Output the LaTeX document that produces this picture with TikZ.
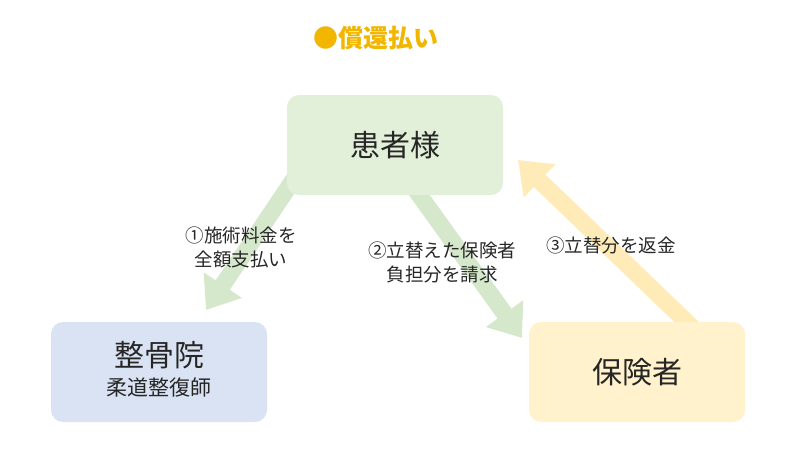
\documentclass[tikz,border=0pt]{standalone}
\usepackage{fontspec}
\setmainfont{Noto Sans CJK JP}
\usetikzlibrary{arrows.meta}
\definecolor{bgreen}{HTML}{E2EFD9}
\definecolor{agreen}{HTML}{D5E8CB}
\definecolor{bblue}{HTML}{DAE3F3}
\definecolor{byellow}{HTML}{FFF2CC}
\definecolor{ayellow}{HTML}{FFEBB8}
\definecolor{ttl}{HTML}{F2B600}
\definecolor{txt}{HTML}{262626}
\tikzset{box/.style={rounded corners=12pt,minimum width=216pt,minimum height=100pt,align=center,text=txt},
fat/.style={line width=17pt,-{Triangle[width=44pt,length=30pt]}},
lbl/.style={align=center,text=txt,font=\fontsize{18.5pt}{24pt}\selectfont}}
\begin{document}
\begin{tikzpicture}[x=1pt,y=-1pt]
\useasboundingbox (0,0) rectangle (800,450);
\coordinate (a1s) at (300,170);
\coordinate (a1e) at (206,310);
\coordinate (a2s) at (405,175);
\coordinate (a2e) at (522,338);
\coordinate (a3s) at (695,330);
\coordinate (a3e) at (518,160);
\draw[fat,draw=agreen,fill=agreen] (a1s) -- (a1e);
\draw[fat,draw=agreen,fill=agreen] (a2s) -- (a2e);
\draw[fat,draw=ayellow,fill=ayellow] (a3s) -- (a3e);
\node[box,fill=bgreen,font=\fontsize{30pt}{34pt}\selectfont] (p) at (395,145) {患者様};
\node[box,fill=bblue] (s) at (159,372) {};
\node[text=txt,font=\fontsize{30pt}{34pt}\selectfont] (s1) at (159,355) {整骨院};
\node[text=txt,font=\fontsize{21pt}{24pt}\selectfont] (s2) at (159,388) {柔道整復師};
\node[box,fill=byellow,font=\fontsize{30pt}{34pt}\selectfont] (h) at (637,372) {保険者};
\node[text=ttl,font=\fontsize{25pt}{28pt}\selectfont\bfseries] (t) at (376,38) {●償還払い};
\node[lbl] (l1) at (241,247) {①施術料金を\\全額支払い};
\node[lbl] (l2) at (442,262) {②立替えた保険者\\負担分を請求};
\node[lbl] (l3) at (611,245) {③立替分を返金};
\end{tikzpicture}
\end{document}
